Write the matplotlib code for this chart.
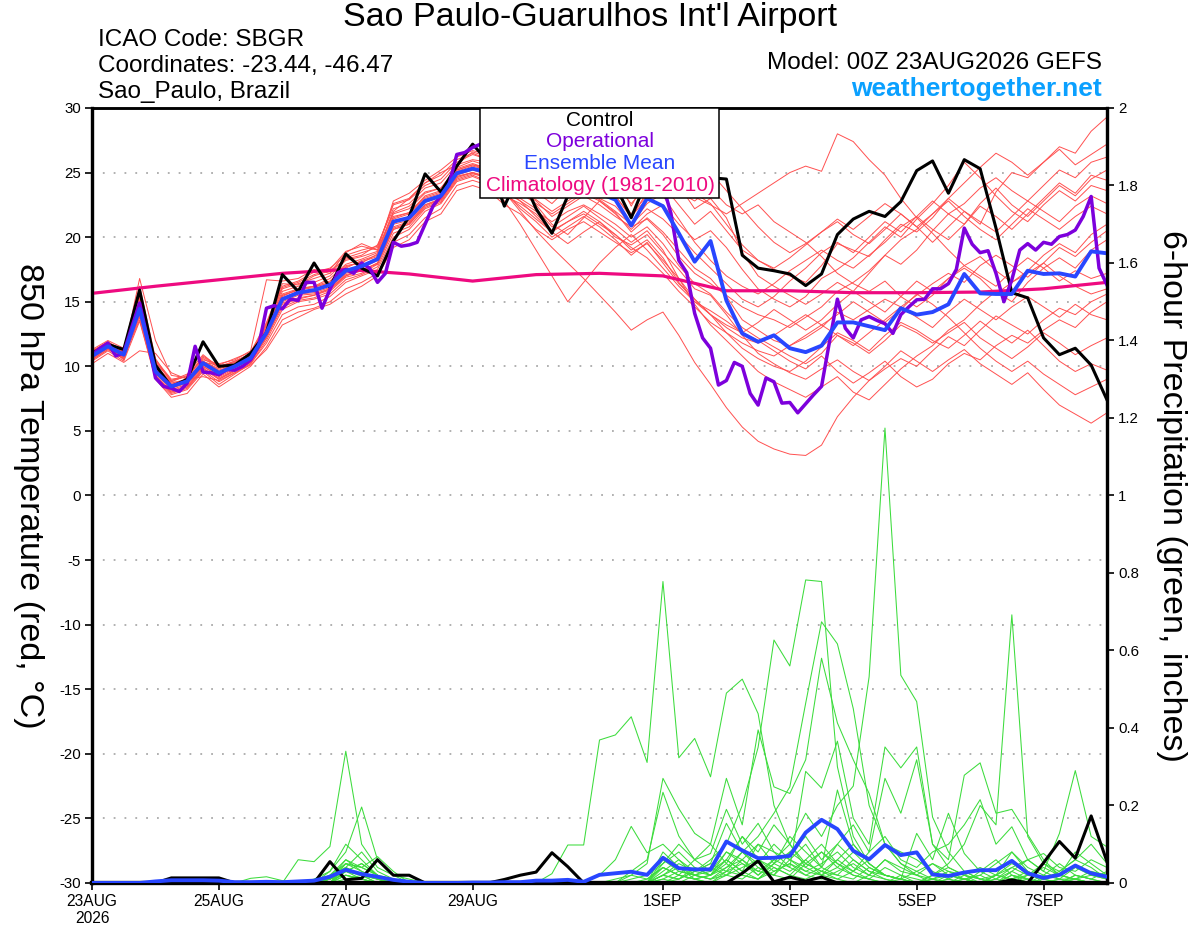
import numpy as np
import matplotlib
matplotlib.use("Agg")
import matplotlib.pyplot as plt
from matplotlib.patches import Rectangle

plt.rcParams["font.family"] = ["Liberation Sans", "DejaVu Sans"]
plt.rcParams["axes.unicode_minus"] = False

# forecast hours: GEFS members / mean / control are 6-hourly, operational 3-hourly
hours_6h = np.arange(0, 385, 6)
hours_3h = np.arange(0, 385, 3)
clim_day = np.arange(0, 17)

date_ticks = [0, 2, 4, 6, 9, 11, 13, 15]
date_labels = ["23AUG\n2026", "25AUG", "27AUG", "29AUG", "1SEP", "3SEP", "5SEP", "7SEP"]
temp_ticks = list(range(-30, 31, 5))
prec_ticks = [0, 0.2, 0.4, 0.6, 0.8, 1.0, 1.2, 1.4, 1.6, 1.8, 2.0]
prec_labels = ["0", "0.2", "0.4", "0.6", "0.8", "1", "1.2", "1.4", "1.6", "1.8", "2"]

# ---- 850 hPa temperature (C) ----
control_t = [11.0, 11.7, 11.3, 15.9, 10.1, 8.4, 9.0, 11.9, 10.0, 10.1, 11.0, 12.6, 17.1, 15.8, 18.0, 16.1,
             18.7, 17.6, 17.0, 19.7, 21.6, 24.9, 23.5, 25.5, 27.2, 25.8, 22.4, 25.0, 22.2, 20.3, 23.2, 25.0,
             24.5, 24.0, 21.5, 24.5, 24.6, 24.5, 24.6, 24.6, 24.5, 18.6, 17.6, 17.4, 17.15, 16.25, 17.15,
             20.2, 21.4, 22.0, 21.6, 22.75, 25.15, 25.9, 23.4, 26.0, 25.3, 20.7, 15.7, 15.3, 12.2, 10.9,
             11.4, 10.1, 7.4]
mean_t = [10.8, 11.55, 10.9, 14.45, 9.6, 8.45, 8.85, 10.25, 9.5, 10.0, 10.65, 12.6, 15.2, 15.7, 15.9, 16.3,
          17.4, 17.75, 18.3, 21.2, 21.5, 22.8, 23.2, 24.95, 25.3, 25.0, 24.6, 24.3, 24.0, 23.6, 23.4, 23.5,
          23.4, 22.9, 20.9, 23.0, 22.4, 20.3, 18.1, 19.7, 15.1, 12.55, 11.9, 12.4, 11.4, 11.1, 11.6, 13.4,
          13.4, 13.1, 12.8, 14.5, 14.0, 14.2, 14.8, 17.15, 15.65, 15.6, 15.6, 17.4, 17.15, 17.2, 16.95,
          18.9, 18.75]
oper_t = [10.9, 11.4, 11.8, 10.8, 11.05, 13.0, 14.9, 12.1, 9.1, 8.45, 8.3, 8.05, 8.7, 11.55, 9.55, 9.5,
          9.35, 9.75, 9.7, 10.0, 10.5, 11.55, 14.5, 14.7, 14.45, 15.2, 15.1, 16.5, 16.5, 14.5, 15.95, 17.25,
          17.5, 17.2, 18.0, 17.6, 16.5, 17.2, 19.6, 19.3, 19.4, 19.6, 21.0, 22.4, 23.2, 24.0, 26.4, 26.55,
          26.95, 27.2, 27.5, 27.8, 28.0, 27.6, 27.0, 26.5, 26.0, 25.6, 25.8, 26.4, 27.0, 27.6, 28.2, 28.8,
          29.2, 29.5, 29.4, 29.0, 28.4, 27.6, 26.5, 25.2, 24.0, 21.85, 18.2, 17.25, 14.1, 12.2, 11.4, 8.55,
          8.9, 10.3, 10.0, 7.9, 7.0, 9.1, 8.8, 7.15, 7.2, 6.4, 7.1, 7.8, 8.45, 11.9, 15.2, 12.95, 12.2,
          13.6, 13.85, 13.55, 13.3, 12.55, 14.0, 14.6, 15.15, 15.2, 16.0, 16.0, 16.4, 17.5, 20.7, 19.45,
          18.8, 18.95, 17.2, 15.0, 16.7, 19.0, 19.5, 19.0, 19.6, 19.45, 20.05, 20.2, 20.55, 21.6, 23.15,
          17.6, 16.3]
clim_t = [15.65, 16.2, 16.7, 17.2, 17.5, 17.15, 16.6, 17.1, 17.2, 17.0, 15.85, 15.85, 15.7, 15.7, 15.75,
          16.0, 16.5]

t_m01 = [11.0, 11.8, 11.2, 15.5, 10.2, 8.6, 8.9, 10.4, 9.8, 10.2, 10.8, 12.9, 15.8, 16.2, 16.5, 17.0, 18.2, 18.5, 18.9, 21.9, 22.4, 23.5, 23.8, 25.4, 25.9,
         25.5, 24.8, 24.0, 23.5, 22.6, 23.8, 24.5, 24.0, 23.2, 21.5, 23.5, 24.0, 22.5, 21.0, 22.0, 20.5, 19.0, 18.2, 17.5, 17.0, 16.5, 17.8, 19.5, 19.0, 18.5, 19.8, 21.0, 20.4, 21.5, 23.0, 22.0, 21.0, 23.5, 25.0, 24.6, 25.8, 27.0, 26.5, 28.2, 29.3]
t_m02 = [10.5, 11.3, 10.6, 13.8, 9.2, 8.0, 8.4, 9.8, 9.1, 9.7, 10.4, 12.2, 14.6, 15.1, 15.3, 15.8, 16.9, 17.2, 17.9, 20.6, 21.0, 22.3, 22.8, 24.5, 24.9,
         24.6, 23.5, 22.0, 20.5, 19.2, 18.0, 16.8, 15.5, 14.2, 12.8, 13.6, 14.2, 12.4, 10.3, 8.6, 6.8, 5.3, 4.2, 3.6, 3.2, 3.1, 3.9, 6.1, 7.6, 8.9, 9.8, 10.6, 10.0, 11.2, 12.3, 11.6, 12.8, 13.9, 13.2, 12.5, 13.6, 14.5, 14.0, 15.0, 15.6]
t_m03 = [11.2, 11.9, 11.0, 16.8, 12.0, 9.3, 9.1, 10.8, 10.0, 10.3, 11.0, 13.3, 16.2, 16.6, 17.3, 17.6, 18.6, 19.0, 19.3, 22.5, 22.9, 24.0, 24.5, 25.8, 26.4,
         26.0, 25.0, 23.8, 24.5, 25.0, 24.2, 23.6, 23.0, 22.4, 21.0, 22.6, 23.4, 24.0, 23.1, 22.5, 21.8, 22.6, 23.4, 24.2, 25.0, 25.5, 25.1, 28.0, 27.4, 26.0, 24.8, 23.0, 21.5, 20.3, 19.0, 17.8, 18.5, 17.4, 16.5, 17.2, 18.0, 17.0, 16.2, 15.6, 16.0]
t_m04 = [10.6, 11.5, 10.5, 14.0, 9.0, 7.8, 8.2, 9.6, 8.6, 9.4, 10.2, 11.8, 14.0, 14.6, 14.8, 15.4, 16.5, 17.0, 17.5, 20.0, 20.6, 22.0, 22.6, 24.3, 24.7,
         24.2, 22.8, 21.0, 19.0, 17.0, 15.0, 16.5, 18.0, 19.2, 20.2, 19.0, 17.6, 16.2, 15.0, 14.3, 13.5, 12.6, 12.0, 11.2, 10.4, 9.8, 10.8, 9.6, 8.7, 9.5, 10.4, 9.2, 8.4, 9.0, 10.2, 11.0, 10.5, 11.6, 12.4, 11.8, 12.8, 13.6, 13.0, 14.2, 15.0]
t_m05 = [11.0, 11.7, 11.1, 15.0, 10.0, 8.8, 9.3, 10.6, 9.9, 10.4, 10.9, 13.0, 15.6, 16.0, 16.2, 16.6, 17.8, 18.0, 18.7, 21.6, 21.9, 23.2, 23.6, 25.2, 25.6,
         25.4, 25.2, 25.8, 26.5, 26.0, 26.8, 26.2, 25.5, 24.8, 22.4, 24.6, 25.5, 24.0, 22.2, 23.0, 21.5, 18.8, 17.0, 16.2, 15.5, 14.8, 15.6, 16.5, 15.8, 17.2, 18.6, 17.9, 19.0, 20.5, 21.8, 21.0, 22.6, 23.8, 22.5, 21.6, 22.8, 24.0, 23.2, 24.5, 25.2]
t_m06 = [10.8, 11.4, 10.8, 14.2, 9.4, 8.3, 8.7, 10.0, 9.3, 9.9, 10.5, 12.4, 15.0, 15.5, 15.6, 16.0, 17.1, 17.4, 18.0, 20.8, 21.2, 22.5, 23.0, 24.7, 25.0,
         24.5, 23.5, 22.8, 22.0, 21.2, 22.0, 22.5, 21.8, 21.0, 20.0, 20.8, 19.5, 17.8, 16.4, 15.6, 14.2, 13.0, 12.2, 11.5, 10.8, 10.2, 11.0, 12.4, 11.8, 11.0, 12.0, 13.2, 12.6, 11.8, 12.6, 13.4, 12.2, 11.4, 10.6, 11.5, 12.6, 11.8, 10.9, 11.6, 12.2]
t_m07 = [10.4, 11.2, 10.4, 13.5, 9.0, 7.6, 7.9, 9.4, 8.4, 9.2, 10.0, 11.5, 13.6, 14.2, 14.5, 15.0, 16.0, 16.5, 17.2, 19.6, 20.2, 21.5, 22.2, 24.0, 24.4,
         24.0, 23.2, 22.6, 21.8, 20.5, 21.2, 22.0, 21.2, 20.0, 19.4, 20.2, 18.8, 17.5, 16.0, 15.5, 14.0, 12.4, 11.0, 10.2, 9.5, 9.0, 9.8, 10.5, 9.6, 8.9, 10.0, 11.2, 10.4, 9.6, 10.5, 11.3, 10.2, 9.4, 8.6, 9.5, 8.2, 7.0, 6.3, 5.6, 6.4]
t_m08 = [11.1, 11.8, 11.3, 15.2, 10.5, 9.0, 9.2, 10.5, 10.2, 10.5, 11.2, 16.7, 16.6, 16.8, 17.5, 17.2, 18.8, 19.5, 19.0, 22.0, 23.0, 24.2, 25.0, 25.6, 26.6,
         26.2, 24.5, 23.8, 22.5, 21.0, 20.2, 21.5, 22.8, 21.8, 20.6, 21.8, 22.5, 21.0, 19.8, 20.5, 19.2, 17.5, 16.0, 15.2, 14.6, 15.4, 16.8, 17.5, 18.4, 19.6, 20.8, 20.0, 21.4, 22.6, 24.0, 25.8, 24.6, 23.2, 22.0, 21.2, 22.5, 23.6, 22.8, 24.0, 23.6]
t_m09 = [10.9, 11.6, 10.7, 14.8, 9.8, 8.5, 8.8, 10.2, 9.6, 10.1, 10.7, 12.8, 15.4, 16.0, 16.2, 16.4, 17.6, 18.2, 18.6, 21.4, 21.8, 23.0, 23.4, 25.1, 25.5,
         25.2, 24.6, 25.0, 24.2, 23.4, 24.0, 24.8, 24.2, 23.6, 21.8, 23.2, 24.6, 23.5, 22.8, 23.8, 22.5, 21.8, 22.5, 21.2, 20.4, 19.6, 18.5, 17.2, 16.4, 15.8, 16.6, 15.4, 14.6, 15.5, 16.8, 17.6, 16.8, 15.6, 16.5, 17.4, 18.6, 19.5, 18.8, 20.2, 21.0]
t_m10 = [10.7, 11.5, 10.9, 14.6, 9.5, 8.2, 8.6, 10.0, 9.2, 9.8, 10.4, 12.5, 15.1, 15.6, 15.7, 16.1, 17.2, 17.6, 18.2, 21.0, 21.3, 22.7, 23.1, 24.8, 25.2,
         24.8, 23.8, 23.0, 22.2, 20.8, 21.6, 22.4, 21.5, 20.6, 19.6, 20.5, 19.0, 16.8, 14.8, 13.2, 12.0, 10.8, 9.6, 8.8, 8.2, 7.6, 8.4, 9.2, 8.0, 7.4, 8.6, 9.8, 10.8, 11.6, 12.8, 13.6, 14.8, 15.8, 15.0, 16.5, 17.6, 18.4, 17.6, 19.0, 19.8]
t_m11 = [11.0, 11.6, 11.0, 15.3, 10.1, 8.7, 9.0, 10.4, 9.7, 10.1, 10.8, 12.9, 15.5, 15.9, 16.2, 16.8, 17.9, 18.3, 18.8, 21.8, 22.2, 23.4, 23.8, 25.3, 25.7,
         25.3, 24.2, 23.5, 22.8, 21.6, 22.4, 23.2, 22.5, 21.6, 20.8, 21.4, 20.2, 18.5, 17.2, 16.4, 15.5, 14.6, 14.0, 13.6, 13.0, 13.8, 14.6, 15.8, 16.5, 17.4, 18.6, 19.8, 20.6, 21.8, 23.0, 24.2, 25.4, 26.5, 25.8, 24.8, 25.8, 26.8, 25.6, 26.4, 27.2]
t_m12 = [10.6, 11.4, 10.6, 14.0, 9.3, 8.1, 8.5, 9.9, 9.0, 9.6, 10.3, 12.2, 14.8, 15.2, 15.5, 15.9, 17.0, 17.5, 17.9, 20.6, 21.0, 22.4, 22.9, 24.6, 25.0,
         24.7, 24.0, 23.4, 22.6, 21.8, 22.6, 23.4, 22.8, 21.9, 20.4, 21.5, 20.4, 19.0, 17.6, 16.8, 15.4, 13.6, 12.8, 12.0, 11.6, 12.2, 13.0, 14.2, 13.6, 14.4, 15.2, 14.6, 15.5, 16.4, 17.2, 16.5, 17.8, 18.6, 17.8, 16.9, 18.0, 19.2, 18.5, 19.6, 20.5]
t_m13 = [10.2, 11.0, 10.3, 11.2, 11.0, 9.5, 9.0, 9.2, 8.9, 9.5, 10.1, 11.3, 13.2, 13.8, 14.4, 14.8, 15.6, 16.2, 17.0, 19.2, 19.8, 21.2, 21.8, 23.6, 24.0,
         23.6, 22.5, 21.8, 20.6, 19.8, 20.6, 21.2, 20.4, 19.6, 18.8, 19.5, 18.2, 16.8, 15.2, 14.0, 12.6, 11.4, 10.6, 10.0, 9.6, 10.4, 11.5, 12.6, 12.0, 11.2, 12.4, 13.4, 12.8, 12.0, 11.4, 12.4, 13.5, 12.6, 11.8, 12.8, 11.6, 10.4, 9.6, 10.2, 9.7]
t_m14 = [11.1, 11.9, 11.2, 15.6, 10.3, 8.9, 9.2, 10.7, 10.0, 10.4, 11.0, 13.1, 16.0, 16.4, 16.8, 17.2, 18.4, 18.8, 19.2, 22.6, 23.0, 24.2, 24.8, 26.0, 26.5,
         26.0, 25.5, 24.6, 23.8, 23.0, 23.8, 24.6, 24.0, 23.2, 21.6, 23.0, 24.6, 25.2, 24.5, 25.0, 23.6, 22.2, 20.8, 19.6, 18.8, 19.5, 20.4, 21.2, 20.2, 19.5, 20.6, 21.8, 20.8, 19.6, 20.8, 22.0, 21.2, 20.4, 21.6, 22.8, 22.0, 21.2, 22.4, 23.2, 22.6]
t_m15 = [10.5, 11.3, 10.7, 13.6, 9.1, 7.9, 8.3, 9.7, 8.8, 9.5, 10.2, 12.0, 14.4, 15.0, 15.2, 15.6, 16.7, 17.1, 17.7, 20.3, 20.8, 22.2, 22.7, 24.4, 24.8,
         24.3, 23.4, 22.4, 21.4, 20.4, 21.2, 21.8, 21.0, 20.2, 19.0, 19.8, 18.4, 16.5, 15.0, 14.0, 13.0, 12.2, 11.8, 12.4, 13.2, 14.0, 13.2, 12.4, 11.6, 12.6, 13.6, 14.6, 13.8, 13.0, 14.2, 15.2, 14.4, 13.6, 14.6, 15.4, 14.6, 13.8, 14.8, 14.0, 13.6]
t_m16 = [11.3, 12.0, 11.4, 16.2, 10.6, 8.8, 8.7, 10.3, 10.1, 10.6, 11.1, 13.4, 16.4, 16.3, 17.0, 17.4, 18.3, 18.6, 19.4, 22.2, 22.6, 23.8, 24.2, 25.6, 26.0,
         25.8, 25.6, 25.0, 24.4, 23.8, 24.6, 25.2, 24.6, 24.0, 22.6, 24.0, 23.2, 21.4, 19.6, 18.2, 17.0, 16.2, 15.6, 16.4, 17.4, 18.2, 19.0, 18.2, 17.6, 18.6, 19.6, 20.8, 21.6, 20.6, 19.8, 21.0, 22.4, 21.6, 20.6, 21.8, 23.0, 24.2, 23.4, 24.8, 24.4]
t_m17 = [10.8, 11.6, 10.9, 14.9, 9.7, 8.4, 8.7, 10.1, 9.4, 9.9, 10.6, 12.7, 15.3, 15.8, 15.9, 16.3, 17.3, 17.8, 18.4, 21.1, 21.6, 22.9, 23.3, 25.0, 25.4,
         24.9, 23.8, 22.8, 21.6, 20.4, 19.5, 20.4, 21.2, 20.2, 19.2, 18.4, 17.2, 15.8, 14.6, 13.4, 12.6, 11.8, 11.2, 10.8, 11.6, 12.4, 13.2, 14.0, 15.0, 14.2, 13.4, 14.4, 15.6, 14.8, 13.8, 12.6, 11.4, 10.4, 9.6, 10.4, 9.4, 8.6, 7.8, 8.4, 9.0]
t_m18 = [10.9, 11.7, 11.0, 15.1, 9.9, 8.6, 9.0, 10.3, 9.6, 10.2, 10.8, 12.8, 15.5, 15.9, 16.1, 16.5, 17.7, 18.1, 18.5, 21.5, 21.9, 23.1, 23.5, 25.2, 25.6,
         25.2, 24.4, 23.6, 22.9, 22.0, 22.8, 23.6, 22.9, 22.0, 21.0, 22.2, 21.4, 20.2, 18.8, 17.6, 16.4, 15.2, 14.6, 15.4, 16.6, 17.6, 18.8, 19.6, 18.8, 20.0, 21.2, 20.4, 21.6, 22.8, 21.8, 22.6, 23.8, 24.6, 23.6, 22.8, 24.0, 25.2, 24.6, 25.8, 26.2]
t_m19 = [10.6, 11.4, 10.6, 14.3, 9.3, 8.0, 8.4, 9.8, 9.0, 9.7, 10.3, 12.3, 14.9, 15.3, 15.5, 16.0, 17.0, 17.4, 18.0, 20.7, 21.1, 22.5, 22.9, 24.7, 25.0,
         24.6, 23.6, 22.2, 21.2, 20.0, 20.8, 21.6, 20.8, 19.8, 18.6, 19.6, 18.0, 16.4, 15.2, 14.0, 13.2, 12.6, 13.4, 14.4, 13.6, 12.8, 13.6, 14.8, 15.8, 15.0, 14.2, 15.4, 16.6, 15.8, 16.8, 17.8, 17.0, 16.2, 17.4, 18.4, 17.6, 16.6, 17.4, 16.8, 17.2]
t_m20 = [11.2, 11.8, 11.1, 15.8, 10.4, 8.9, 9.4, 10.9, 9.9, 10.3, 10.9, 13.2, 16.1, 16.5, 17.1, 17.5, 18.9, 19.3, 19.0, 22.8, 23.4, 24.4, 25.2, 26.2, 26.7,
         26.4, 25.8, 26.2, 26.8, 26.4, 27.2, 26.8, 26.0, 25.2, 23.6, 25.8, 26.4, 25.0, 23.4, 22.6, 21.0, 19.4, 18.2, 17.6, 18.4, 19.4, 20.4, 21.4, 20.6, 21.6, 22.6, 21.8, 20.8, 21.8, 22.8, 21.6, 20.6, 19.8, 21.0, 22.2, 21.4, 20.6, 21.6, 22.4, 21.8]

# ---- 6-hour precipitation (inches) ----
control_p = [0, 0, 0, 0, 0, 0.013, 0.013, 0.013, 0.013, 0, 0, 0, 0, 0, 0, 0.055, 0.008, 0.012, 0.06, 0.02,
             0.02, 0, 0, 0, 0, 0, 0.009, 0.02, 0.028, 0.078, 0.042, 0, 0, 0, 0, 0, 0, 0, 0, 0, 0, 0.025,
             0.057, 0.003, 0.015, 0.005, 0.015, 0, 0, 0, 0, 0, 0, 0, 0, 0, 0, 0, 0.008, 0, 0.052, 0.107,
             0.064, 0.173, 0.055]
mean_p = [0, 0, 0, 0, 0.004, 0.007, 0.007, 0.007, 0.006, 0.002, 0.002, 0.003, 0.002, 0.004, 0.006, 0.016,
          0.034, 0.023, 0.016, 0.008, 0.003, 0, 0, 0, 0.001, 0.001, 0.002, 0.002, 0.006, 0.006, 0.008,
          0.003, 0.021, 0.025, 0.029, 0.021, 0.065, 0.038, 0.035, 0.035, 0.107, 0.084, 0.064, 0.065, 0.070,
          0.130, 0.163, 0.139, 0.083, 0.061, 0.098, 0.072, 0.079, 0.022, 0.018, 0.027, 0.033, 0.033, 0.057,
          0.025, 0.013, 0.021, 0.045, 0.025, 0.016]

p_m01 = [0, 0, 0, 0, 0, 0, 0, 0, 0, 0, 0, 0, 0,
         0, 0, 0.02, 0.05, 0.03, 0.01, 0, 0, 0, 0, 0, 0, 0,
         0, 0, 0, 0.024, 0.098, 0.098, 0.369, 0.382, 0.429, 0.311, 0.778, 0.323, 0.373,
         0.274, 0.49, 0.526, 0.437, 0.2, 0.1, 0.05, 0.08, 0.04, 0.02, 0.01, 0, 0.02,
         0, 0, 0.01, 0, 0, 0.02, 0.01, 0, 0, 0.01, 0, 0, 0]
p_m02 = [0, 0, 0, 0, 0, 0.005, 0.008, 0.005, 0, 0, 0, 0, 0,
         0.06, 0.055, 0.094, 0.34, 0.1, 0.04, 0.02, 0.01, 0, 0, 0, 0, 0,
         0, 0, 0, 0, 0, 0, 0, 0, 0.01, 0.02, 0.05, 0.08, 0.04,
         0.02, 0.06, 0.03, 0.01, 0.05, 0.12, 0.08, 0.04, 0.02, 0.06, 0.03, 0.01, 0,
         0, 0.02, 0.05, 0.1, 0.2, 0.15, 0.692, 0.12, 0.05, 0.02, 0.01, 0, 0]
p_m03 = [0, 0, 0, 0, 0, 0, 0, 0, 0, 0, 0, 0, 0,
         0, 0.01, 0.03, 0.08, 0.196, 0.06, 0.02, 0, 0, 0, 0, 0, 0,
         0, 0, 0, 0, 0, 0, 0, 0, 0, 0, 0.02, 0.05, 0.03,
         0.06, 0.1, 0.2, 0.35, 0.627, 0.56, 0.782, 0.778, 0.3, 0.12, 0.05, 0.02, 0.01,
         0, 0, 0, 0.01, 0.02, 0, 0, 0.01, 0, 0, 0.02, 0.01, 0]
p_m04 = [0, 0, 0, 0, 0, 0, 0, 0, 0, 0, 0, 0, 0,
         0, 0, 0.01, 0.04, 0.02, 0.01, 0, 0, 0, 0, 0, 0, 0,
         0, 0, 0, 0, 0, 0, 0, 0.01, 0.02, 0.01, 0.04, 0.02, 0.06,
         0.1, 0.05, 0.12, 0.08, 0.15, 0.1, 0.18, 0.12, 0.2, 0.25, 0.532, 1.174, 0.536,
         0.468, 0.17, 0.08, 0.03, 0.01, 0, 0.02, 0.01, 0, 0, 0, 0, 0]
p_m05 = [0, 0, 0, 0, 0, 0, 0, 0, 0, 0, 0.012, 0.016, 0.006,
         0, 0, 0.02, 0.06, 0.04, 0.068, 0.03, 0, 0, 0, 0, 0, 0,
         0, 0, 0, 0, 0, 0, 0, 0, 0, 0, 0.03, 0.06, 0.02,
         0.01, 0.04, 0.08, 0.12, 0.18, 0.248, 0.464, 0.674, 0.617, 0.45, 0.2, 0.1, 0.05,
         0.02, 0.01, 0, 0, 0.03, 0.06, 0.02, 0, 0, 0, 0.01, 0, 0]
p_m06 = [0, 0, 0, 0, 0, 0, 0, 0, 0, 0, 0, 0, 0,
         0, 0, 0, 0.04, 0.08, 0.03, 0.01, 0, 0, 0, 0, 0, 0,
         0, 0, 0, 0, 0, 0, 0, 0, 0.02, 0.05, 0.27, 0.192, 0.128,
         0.1, 0.27, 0.15, 0.395, 0.248, 0.231, 0.318, 0.58, 0.413, 0.318, 0.231, 0.1, 0.05,
         0.03, 0.01, 0, 0, 0, 0.02, 0.05, 0.03, 0, 0, 0, 0, 0]
p_m07 = [0, 0, 0, 0, 0.004, 0.006, 0.004, 0, 0, 0, 0, 0, 0,
         0, 0, 0.03, 0.1, 0.06, 0.02, 0, 0, 0, 0, 0, 0, 0,
         0, 0, 0, 0, 0, 0, 0, 0, 0.03, 0.06, 0.234, 0.121, 0.06,
         0.076, 0.19, 0.1, 0.154, 0.08, 0.04, 0.288, 0.245, 0.366, 0.167, 0.1, 0.351, 0.297,
         0.351, 0.1, 0.04, 0.02, 0, 0, 0.01, 0.03, 0.01, 0, 0, 0, 0]
p_m08 = [0, 0, 0, 0, 0, 0, 0, 0, 0, 0, 0, 0, 0,
         0, 0, 0.01, 0.03, 0.02, 0.01, 0, 0, 0, 0, 0, 0, 0,
         0, 0, 0, 0, 0, 0, 0, 0, 0, 0, 0.06, 0.03, 0.02,
         0.04, 0.02, 0.06, 0.1, 0.05, 0.08, 0.12, 0.06, 0.1, 0.15, 0.08, 0.27, 0.18,
         0.318, 0.1, 0.06, 0.278, 0.31, 0.18, 0.19, 0.125, 0.06, 0.02, 0.01, 0, 0]
p_m09 = [0, 0, 0, 0, 0, 0, 0, 0, 0, 0, 0, 0, 0,
         0, 0, 0, 0.02, 0.01, 0, 0, 0, 0, 0, 0, 0, 0,
         0, 0, 0, 0, 0, 0, 0, 0, 0, 0, 0.02, 0.01, 0.04,
         0.02, 0.08, 0.05, 0.03, 0.06, 0.1, 0.04, 0.02, 0.06, 0.03, 0.08, 0.12, 0.06,
         0.04, 0.08, 0.1, 0.15, 0.215, 0.1, 0.145, 0.06, 0.03, 0.128, 0.29, 0.12, 0.093]
p_m10 = [0, 0, 0, 0, 0, 0, 0, 0, 0, 0, 0, 0, 0,
         0, 0, 0, 0.03, 0.05, 0.02, 0, 0, 0, 0, 0, 0, 0,
         0, 0, 0, 0, 0, 0, 0.02, 0.06, 0.146, 0.078, 0.1, 0.06, 0.03,
         0.05, 0.154, 0.08, 0.04, 0.02, 0.06, 0.1, 0.04, 0.24, 0.1, 0.05, 0.02, 0.01,
         0.128, 0.06, 0.18, 0.076, 0.03, 0.01, 0, 0, 0.02, 0.01, 0, 0, 0]
p_m11 = [0, 0, 0, 0, 0, 0, 0, 0, 0, 0, 0, 0, 0,
         0, 0, 0.01, 0.06, 0.03, 0.01, 0, 0, 0, 0, 0, 0, 0,
         0, 0, 0, 0, 0, 0, 0, 0, 0, 0, 0.08, 0.04, 0.02,
         0.03, 0.08, 0.06, 0.02, 0.05, 0.03, 0.06, 0.02, 0.04, 0.08, 0.04, 0.02, 0.01,
         0, 0, 0.02, 0.01, 0, 0, 0.03, 0.06, 0.076, 0.04, 0.03, 0.06, 0.04]
p_m12 = [0, 0, 0, 0, 0, 0.003, 0.004, 0.002, 0, 0, 0, 0, 0,
         0, 0, 0, 0.05, 0.04, 0.02, 0.01, 0, 0, 0, 0, 0, 0,
         0, 0, 0, 0, 0, 0, 0, 0, 0, 0.01, 0.04, 0.02, 0.01,
         0.02, 0.06, 0.03, 0.1, 0.08, 0.06, 0.03, 0.05, 0.08, 0.04, 0.02, 0.06, 0.03,
         0.02, 0.05, 0.03, 0.01, 0, 0.02, 0.08, 0.04, 0.02, 0.05, 0.02, 0.01, 0.03]
p_m13 = [0, 0, 0, 0, 0, 0, 0, 0, 0, 0, 0, 0, 0,
         0, 0, 0, 0.03, 0.02, 0, 0, 0, 0, 0, 0, 0, 0,
         0, 0, 0, 0, 0, 0, 0, 0, 0, 0, 0.01, 0.03, 0.02,
         0.01, 0.02, 0.04, 0.06, 0.04, 0.02, 0.01, 0.03, 0.06, 0.1, 0.05, 0.02, 0.01,
         0, 0.01, 0, 0.02, 0.04, 0.02, 0.01, 0, 0.01, 0.03, 0.06, 0.1, 0.05]
p_m14 = [0, 0, 0, 0, 0, 0, 0, 0, 0, 0, 0, 0, 0,
         0, 0, 0.02, 0.04, 0.02, 0.01, 0, 0, 0, 0, 0, 0, 0,
         0, 0, 0, 0, 0, 0, 0, 0, 0, 0, 0.02, 0.01, 0.03,
         0.05, 0.03, 0.08, 0.05, 0.1, 0.06, 0.04, 0.08, 0.05, 0.03, 0.06, 0.1, 0.08,
         0.06, 0.03, 0.01, 0, 0, 0.01, 0.04, 0.02, 0.01, 0.02, 0.08, 0.05, 0.02]
p_m15 = [0, 0, 0, 0, 0, 0, 0, 0, 0, 0, 0, 0, 0,
         0, 0, 0, 0.02, 0.01, 0, 0, 0, 0, 0, 0, 0, 0,
         0, 0, 0, 0, 0, 0, 0, 0, 0, 0, 0, 0.02, 0.01,
         0, 0.02, 0.01, 0.04, 0.02, 0.01, 0.05, 0.03, 0.01, 0, 0.02, 0.06, 0.04,
         0.02, 0, 0.01, 0.03, 0.01, 0, 0.02, 0.01, 0, 0.01, 0.04, 0.02, 0.01]
p_m16 = [0, 0, 0, 0, 0, 0, 0, 0, 0, 0, 0, 0, 0,
         0, 0, 0.01, 0.05, 0.04, 0.02, 0, 0, 0, 0, 0, 0, 0,
         0, 0, 0, 0, 0, 0, 0, 0, 0, 0, 0.05, 0.1, 0.06,
         0.03, 0.06, 0.12, 0.06, 0.03, 0.05, 0.02, 0.04, 0.1, 0.06, 0.03, 0.02, 0.01,
         0.03, 0.05, 0.02, 0.01, 0, 0, 0.01, 0.02, 0.04, 0.02, 0.01, 0, 0]
p_m17 = [0, 0, 0, 0, 0, 0, 0, 0, 0, 0, 0, 0, 0,
         0, 0, 0, 0.03, 0.01, 0, 0, 0, 0, 0, 0, 0, 0,
         0, 0, 0, 0, 0, 0, 0, 0, 0, 0, 0, 0.01, 0.03,
         0.02, 0.05, 0.02, 0.01, 0.04, 0.02, 0.06, 0.1, 0.05, 0.02, 0.01, 0.04, 0.02,
         0.01, 0, 0, 0.01, 0.02, 0.05, 0.08, 0.03, 0.01, 0, 0.01, 0.03, 0.02]
p_m18 = [0, 0, 0, 0, 0, 0, 0, 0, 0, 0, 0, 0, 0,
         0, 0, 0.01, 0.02, 0.01, 0, 0, 0, 0, 0, 0, 0, 0,
         0, 0, 0, 0, 0, 0, 0, 0, 0, 0, 0.02, 0.04, 0.01,
         0, 0.03, 0.05, 0.02, 0.06, 0.04, 0.02, 0.01, 0.03, 0.05, 0.02, 0.01, 0,
         0, 0.02, 0.04, 0.02, 0.01, 0, 0, 0.02, 0.05, 0.03, 0.06, 0.04, 0.01]
p_m19 = [0, 0, 0, 0, 0, 0, 0, 0, 0, 0, 0, 0, 0,
         0, 0, 0, 0.01, 0.02, 0, 0, 0, 0, 0, 0, 0, 0,
         0, 0, 0, 0, 0, 0, 0, 0, 0, 0, 0.01, 0, 0.02,
         0.01, 0.03, 0.02, 0.01, 0.03, 0.05, 0.03, 0.02, 0.01, 0.03, 0.01, 0, 0.01,
         0, 0.01, 0.02, 0.01, 0, 0.01, 0.03, 0.01, 0, 0, 0.02, 0.01, 0]
p_m20 = [0, 0, 0, 0, 0, 0, 0, 0, 0, 0, 0, 0, 0,
         0, 0, 0.01, 0.03, 0.05, 0.02, 0, 0, 0, 0, 0, 0, 0,
         0, 0, 0, 0, 0, 0, 0, 0, 0, 0, 0.04, 0.02, 0.01,
         0.02, 0.04, 0.06, 0.03, 0.02, 0.08, 0.05, 0.03, 0.02, 0.01, 0.04, 0.02, 0.01,
         0, 0.01, 0.03, 0.02, 0.01, 0.02, 0.04, 0.06, 0.03, 0.01, 0.01, 0.02, 0.01]

temp_members = [t_m01, t_m02, t_m03, t_m04, t_m05, t_m06, t_m07, t_m08, t_m09, t_m10,
                t_m11, t_m12, t_m13, t_m14, t_m15, t_m16, t_m17, t_m18, t_m19, t_m20]
prec_members = [p_m01, p_m02, p_m03, p_m04, p_m05, p_m06, p_m07, p_m08, p_m09, p_m10,
                p_m11, p_m12, p_m13, p_m14, p_m15, p_m16, p_m17, p_m18, p_m19, p_m20]

days_6h = hours_6h / 24.0
days_3h = hours_3h / 24.0

red = "#ff5050"
green = "#3cdc3c"
purple = "#7d00dc"
blue = "#2846ff"
pink = "#ee0a80"

fig = plt.figure(figsize=(12, 9.27), dpi=100)
ax = fig.add_axes([0.0767, 0.0475, 0.8458, 0.836])
ax2 = ax.twinx()

# temperature (left axis)
for m in temp_members:
    ax.plot(days_6h, m, color=red, lw=0.7, zorder=2)
ax.plot(clim_day, clim_t, color=pink, lw=2.3, zorder=3)
ax.plot(days_6h, control_t, color="black", lw=2.2, zorder=4)
ax.plot(days_3h, oper_t, color=purple, lw=2.5, zorder=5)
ax.plot(days_6h, mean_t, color=blue, lw=2.8, zorder=6)

ax.set_xlim(0, 16)
ax.set_ylim(-30, 30)
ax.set_yticks(temp_ticks)
ax.set_yticklabels([str(v) for v in temp_ticks])
ax.set_xticks(date_ticks)
ax.set_xticklabels(date_labels)
ax.set_axisbelow(True)
ax.yaxis.grid(True, linestyle=(0, (1, 5)), color="#aaaaaa", lw=1.3)
ax.tick_params(axis="y", direction="out", length=5, width=1.2, labelsize=10.8, pad=3)
ax.tick_params(axis="x", direction="out", length=5, width=1.2, labelsize=11.2, pad=3)

# precipitation (right axis)
for m in prec_members:
    ax2.plot(days_6h, m, color=green, lw=0.75, zorder=2)
ax2.plot(days_6h, control_p, color="black", lw=2.2, zorder=4)
ax2.plot(days_6h, mean_p, color=blue, lw=2.8, zorder=5)
ax2.set_ylim(0, 2)
ax2.set_yticks(prec_ticks)
ax2.set_yticklabels(prec_labels)
ax2.tick_params(axis="y", direction="out", length=5, width=1.2, labelsize=10.8, pad=3)

for a in (ax, ax2):
    a.spines["left"].set_linewidth(2.3)
    a.spines["right"].set_linewidth(2.3)
    a.spines["top"].set_linewidth(1.8)
    a.spines["bottom"].set_linewidth(3.0)

ax.set_ylabel("850 hPa Temperature (red, \u00b0C)", fontsize=24.5, rotation=270, labelpad=10)
ax.yaxis.set_label_coords(-0.078, 0.5)
ax2.set_ylabel("6-hour Precipitation (green, inches)", fontsize=24.5, rotation=270, labelpad=10)
ax2.yaxis.set_label_coords(1.079, 0.5)

# legend box
ax2.add_patch(Rectangle((0.3823, 0.8839), 0.2355, 0.1161, transform=ax2.transAxes,
                        facecolor="white", edgecolor="black", lw=1.1, zorder=20, clip_on=False))
leg_items = [("Control", "black"), ("Operational", purple),
             ("Ensemble Mean", blue), ("Climatology (1981-2010)", pink)]
leg_y = [0.9845, 0.9574, 0.929, 0.9006]
for (txt, c), yy in zip(leg_items, leg_y):
    ax2.text(0.5005, yy, txt, color=c, fontsize=15, ha="center", va="center",
             transform=ax2.transAxes, zorder=21)

# header text
fig.text(0.4917, 0.9806, "Sao Paulo-Guarulhos Int'l Airport", fontsize=24.5, ha="center", va="center")
fig.text(0.0817, 0.9569, "ICAO Code: SBGR", fontsize=17.5, ha="left", va="center")
fig.text(0.0817, 0.9288, "Coordinates: -23.44, -46.47", fontsize=17.5, ha="left", va="center")
fig.text(0.0817, 0.9008, "Sao_Paulo, Brazil", fontsize=17.5, ha="left", va="center")
fig.text(0.9183, 0.932, "Model: 00Z 23AUG2026 GEFS", fontsize=17.5, ha="right", va="center")
fig.text(0.9183, 0.904, "weathertogether.net", fontsize=19, fontweight="bold",
         color="#0aa0ff", ha="right", va="center")

fig.savefig("out.png", dpi=100)
